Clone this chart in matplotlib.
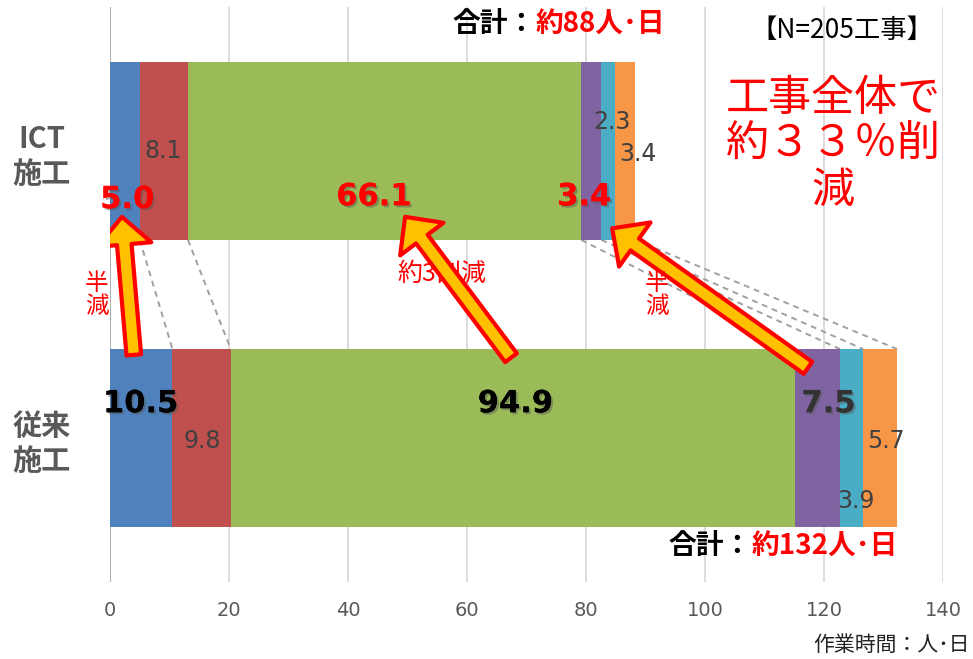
import matplotlib
matplotlib.use('Agg')
import matplotlib.pyplot as plt
import matplotlib.patheffects as pe
from matplotlib.patches import FancyArrowPatch
import numpy as np

plt.rcParams['font.family'] = ['Noto Sans CJK JP', 'DejaVu Sans']

# work time per construction stage (person-days)
methods = ['従来\n施工', 'ICT\n施工']
conventional = [10.5, 9.8, 94.9, 7.5, 3.9, 5.7]
ict = [5.0, 8.1, 66.1, 3.4, 2.3, 3.4]
totals = ['約132人･日', '約88人･日']
x_ticks = [0, 20, 40, 60, 80, 100, 120, 140]

colors = ['#4F81BD', '#C0504D', '#9BBB59', '#8064A2', '#4BACC6', '#F79646']
bar_h = 0.62

fig = plt.figure(figsize=(9.73, 6.59), dpi=100)
ax = fig.add_axes([110 / 973, 1 - 582 / 659, 833 / 973, 575 / 659])

rows = [conventional, ict]
lefts = []
for i, vals in enumerate(rows):
    cum = np.concatenate([[0], np.cumsum(vals)])
    lefts.append(cum)
    ax.barh([i] * len(vals), vals, left=cum[:-1], height=bar_h,
            color=colors, linewidth=0, zorder=2)

# series lines between the two bars
for a, b in zip(lefts[1][1:], lefts[0][1:]):
    ax.plot([a, b], [1 - bar_h / 2, bar_h / 2], ls=(0, (3, 2.5)),
            color='#A0A0A0', lw=1.4, zorder=1)

ax.set_xlim(0, 140)
ax.set_ylim(-0.5, 1.5)
ax.set_xticks(x_ticks)
ax.set_xticklabels([str(t) for t in x_ticks], color='#595959', fontsize=14,
                   family='DejaVu Sans')
ax.set_yticks([0, 1])
ax.set_yticklabels(methods, color='#595959', fontsize=21, fontweight='bold',
                   ha='center', linespacing=1.2)
ax.tick_params(axis='both', length=0)
ax.tick_params(axis='x', pad=14)
ax.tick_params(axis='y', pad=49)
for s in ax.spines.values():
    s.set_visible(False)
for t in x_ticks:
    ax.axvline(t, color='#A6A6A6' if t == 0 else '#D9D9D9', lw=1.3, zorder=0)

shadow = [pe.withSimplePatchShadow(offset=(1.5, -1.5), shadow_rgbFace='#555555', alpha=0.45),
          pe.Normal()]

# value labels: (dx from segment centre, y, colour, bold)
ict_lab = [(0.4, 0.83, 'red', True), (-0.1, 1.0, '#404040', False),
           (-1.8, 0.84, 'red', True), (-1.2, 0.84, 'red', True),
           (0.6, 1.1, '#404040', False), (2.1, 0.99, '#404040', False)]
conv_lab = [(-0.1, 0.12, 'black', True), (0.1, -0.01, '#404040', False),
            (0.4, 0.12, 'black', True), (1.8, 0.12, '#333333', True),
            (0.8, -0.22, '#404040', False), (0.9, -0.01, '#404040', False)]
for vals, cum, labs in [(ict, lefts[1], ict_lab), (conventional, lefts[0], conv_lab)]:
    for v, c0, (dx, y, col, bold) in zip(vals, cum[:-1], labs):
        if bold:
            ax.text(c0 + v / 2 + dx, y, f'{v:.1f}', ha='center', va='center',
                    fontsize=22, fontweight='bold', color=col,
                    family='DejaVu Sans', path_effects=shadow, zorder=5)
        else:
            ax.text(c0 + v / 2 + dx, y, f'{v:.1f}', ha='center', va='center',
                    fontsize=17, color=col, family='DejaVu Sans', zorder=5)

# totals
for (x, y), tot in zip([(93.8, -0.375), (57.5, 1.44)], totals):
    t1 = ax.text(x, y, '合計：', ha='left', va='center', fontsize=20,
                 fontweight='bold', color='black', zorder=5)
    ax.annotate(tot, xy=(1, 0.5), xycoords=t1, ha='left', va='center',
                fontsize=20, fontweight='bold', color='red', zorder=5)

ax.text(123.0, 1.42, '【N=205工事】', ha='center', va='center', fontsize=19,
        color='black')
ax.text(121.5, 1.02, '工事全体で\n約３３％削\n減', ha='center', va='center',
        fontsize=31, color='red', linespacing=1.05)

# arrows pointing from conventional to ICT values
arrows = [((4.0, 0.29), (2.0, 0.77)),
          ((67.4, 0.28), (49.6, 0.77)),
          ((117.3, 0.245), (84.4, 0.73))]
for tail, tip in arrows:
    ax.add_patch(FancyArrowPatch(tail, tip, arrowstyle='simple,head_length=2.0,head_width=3.9,tail_width=1.05',
                                 mutation_scale=10, fc='#FFC000', ec='red', lw=3,
                                 shrinkA=0, shrinkB=0, zorder=6))

ax.text(-2.2, 0.5, '半\n減', ha='center', va='center', fontsize=17, color='red',
        linespacing=1.0, zorder=7)
ax.text(55.7, 0.57, '約3割減', ha='center', va='center', fontsize=18, color='red', zorder=5)
ax.text(91.9, 0.5, '半\n減', ha='center', va='center', fontsize=17, color='red',
        linespacing=1.0, zorder=7)

fig.text(0.997, 0.021, '作業時間：人･日', ha='right', va='center', fontsize=15,
         color='#222222')

fig.savefig('out.png', dpi=100)
